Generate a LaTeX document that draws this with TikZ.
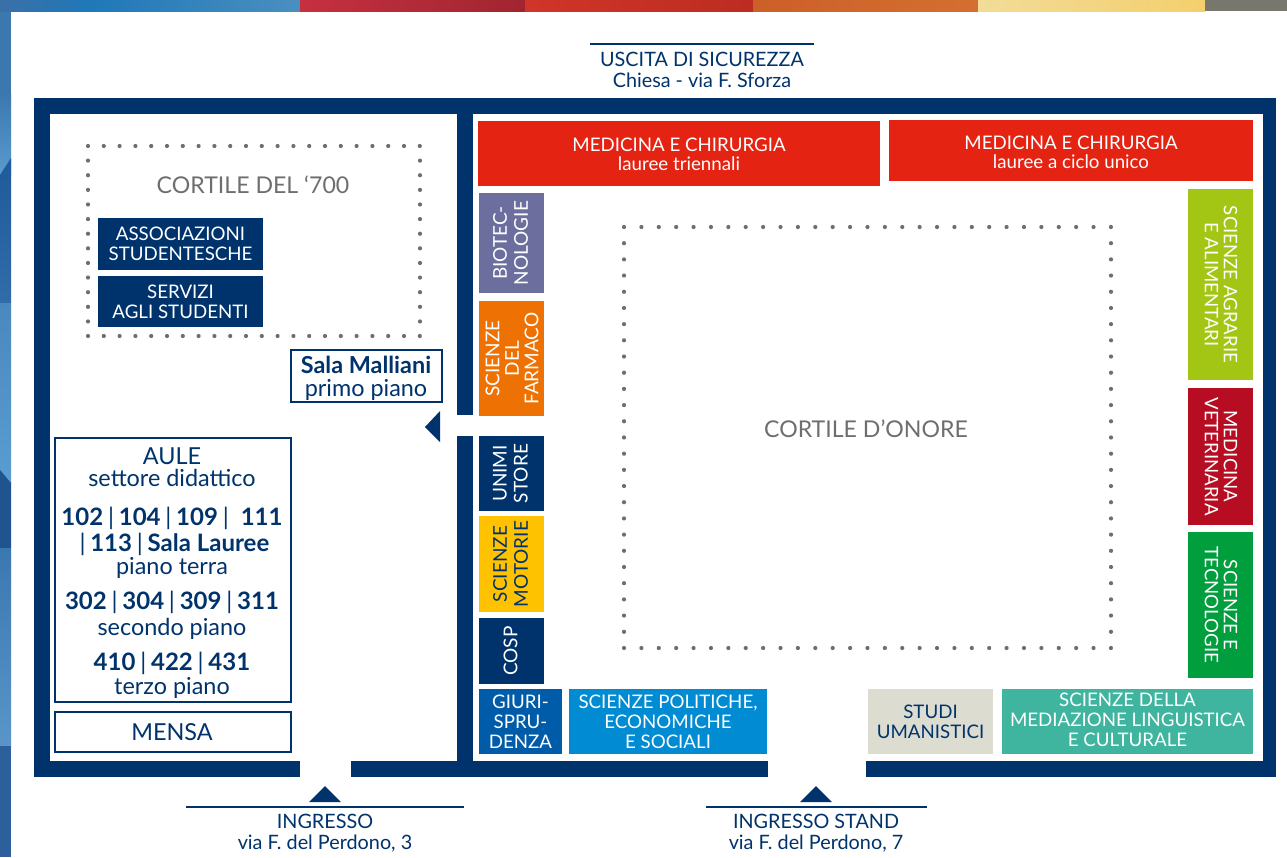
\documentclass[tikz,border=0pt]{standalone}
\usepackage{fontspec}
\setmainfont{Lato}
\definecolor{navy}{HTML}{00336C}
\definecolor{dotgray}{HTML}{6E6E6E}
\definecolor{medred}{HTML}{E42313}
\definecolor{biopurple}{HTML}{6C6F9E}
\definecolor{farmorange}{HTML}{EE7203}
\definecolor{motyellow}{HTML}{FFC200}
\definecolor{giublue}{HTML}{005CA8}
\definecolor{polblue}{HTML}{008BD2}
\definecolor{studgray}{HTML}{DCDCD0}
\definecolor{medteal}{HTML}{3FB59F}
\definecolor{agrgreen}{HTML}{A3C615}
\definecolor{vetred}{HTML}{B70D23}
\definecolor{tecgreen}{HTML}{009E3D}
\definecolor{sA}{HTML}{3A78AE}\definecolor{sB}{HTML}{5A9ACD}\definecolor{sC}{HTML}{1F5A9A}
\definecolor{sD}{HTML}{2F6CA8}\definecolor{sE}{HTML}{4A88BD}\definecolor{sF}{HTML}{5A9DD0}
\definecolor{sG}{HTML}{1F5490}\definecolor{sH}{HTML}{3A78B0}\definecolor{sI}{HTML}{5A95C8}
\definecolor{sJ}{HTML}{2C5F9C}
\definecolor{tA}{HTML}{3A70A8}\definecolor{tB}{HTML}{1F78B8}\definecolor{tC}{HTML}{4A8FC0}
\definecolor{tD}{HTML}{C63040}\definecolor{tE}{HTML}{A02530}\definecolor{tF}{HTML}{D03528}
\definecolor{tG}{HTML}{BC2C22}\definecolor{tH}{HTML}{CC6028}\definecolor{tI}{HTML}{D46F30}
\definecolor{tJ}{HTML}{F2DC98}\definecolor{tK}{HTML}{F4CF6C}\definecolor{tL}{HTML}{78776E}
\tikzset{
  roombox/.style={anchor=north west,inner sep=0pt,outer sep=0pt,draw=none},
  lab/.style={align=center,inner sep=0pt,outer sep=0pt,text=white,font=\fontsize{18.7}{20}\selectfont},
  sidelab/.style={lab,rotate=90,font=\fontsize{19}{19.5}\selectfont},
  widelab/.style={lab,rotate=90,font=\fontsize{19}{21}\selectfont},
  rightlab/.style={lab,rotate=-90,font=\fontsize{18.6}{19}\selectfont},
  navytext/.style={align=center,inner sep=0pt,outer sep=0pt,text=navy,font=\fontsize{19.8}{20.5}\selectfont},
  aulatext/.style={align=center,inner sep=0pt,outer sep=0pt,text=navy,font=\fontsize{23.4}{25}\selectfont},
  aulanum/.style={aulatext,font=\fontsize{24}{26}\selectfont},
  courtname/.style={inner sep=0pt,outer sep=0pt,text=dotgray,font=\fontsize{23.1}{25}\selectfont},
  wall/.style={fill=navy,draw=none},
  outlinebox/.style={draw=navy,line width=2.6pt,fill=white},
  arrowhead/.style={fill=navy,draw=none},
  streetline/.style={draw=navy,line width=2.2pt},
  courtdot/.style={fill=dotgray,draw=none}
}
\newcommand{\Room}[6]{% name, x, y, w, h, colour
  \node[roombox,fill=#6,minimum width=#4pt,minimum height=#5pt] (#1) at (#2,#3) {};}
\newcommand{\Bar}{\hspace{0.2em}{\normalfont\fontsize{24}{24}\selectfont|}\hspace{0.2em}}
\begin{document}
\begin{tikzpicture}[x=1pt,y=-1pt]
\useasboundingbox (0,0) rectangle (1287,857);
\fill[white] (0,0) rectangle (1287,857);
% left colour strip
\fill[sA] (0,0) rectangle (11,93);
\shade[top color=sA,bottom color=sB,draw=none] (0,93) rectangle (11,175);
\shade[top color=sC,bottom color=sD,draw=none] (0,175) -- (11,158) -- (11,303) -- (0,303) -- cycle;
\shade[top color=sE,bottom color=sF,draw=none] (0,303) rectangle (11,483);
\shade[top color=sG,bottom color=sG,draw=none] (0,470) -- (11,483) -- (11,548) -- (0,548) -- cycle;
\shade[top color=sH,bottom color=sI,draw=none] (0,548) rectangle (11,746);
\fill[sJ] (0,746) rectangle (11,857);
% top colour strip
\shade[left color=tA,right color=tB,draw=none] (0,0) rectangle (90,11);
\shade[left color=tB,right color=tC,draw=none] (90,0) rectangle (300,11);
\shade[left color=tD,right color=tE,draw=none] (300,0) rectangle (525,11);
\shade[left color=tF,right color=tG,draw=none] (525,0) rectangle (753,11);
\shade[left color=tH,right color=tI,draw=none] (753,0) rectangle (978,11);
\shade[left color=tJ,right color=tK,draw=none] (978,0) rectangle (1205,11);
\fill[tL] (1205,0) rectangle (1287,11);
% building walls
\fill[wall] (34,98) rectangle (1276,114);
\fill[wall] (34,98) rectangle (50,777);
\fill[wall] (1263,98) rectangle (1276,777);
\fill[wall] (34,761) rectangle (300,777);
\fill[wall] (351,761) rectangle (768,777);
\fill[wall] (866,761) rectangle (1276,777);
\fill[wall] (457,98) rectangle (473,415);
\fill[wall] (457,436) rectangle (473,777);
% courtyard dots
\foreach \i in {0,...,21}{
  \fill[courtdot] (88+15.8*\i,146) circle (2.1);
  \fill[courtdot] (88+15.8*\i,336) circle (2.1);}
\foreach \i in {1,...,12}{
  \fill[courtdot] (88,146+14.62*\i) circle (2.1);
  \fill[courtdot] (420,146+14.62*\i) circle (2.1);}
\foreach \i in {0,...,28}{
  \fill[courtdot] (624+17.39*\i,227) circle (2.1);
  \fill[courtdot] (624+17.39*\i,648) circle (2.1);}
\foreach \i in {1,...,25}{
  \fill[courtdot] (624,227+16.19*\i) circle (2.1);
  \fill[courtdot] (1111,227+16.19*\i) circle (2.1);}
\node[courtname] (c700) at (253,185) {CORTILE DEL ‘700};
\node[courtname] (conore) at (866,429) {CORTILE D’ONORE};
% rooms
\Room{med1}{478}{121}{402}{65}{medred}
\node[lab] (tmed1) at ([yshift=-0.5pt]med1.center) {MEDICINA E CHIRURGIA\\[-1pt]lauree triennali};
\Room{med2}{889}{120}{364}{61}{medred}
\node[lab] (tmed2) at ([yshift=-2pt]med2.center) {MEDICINA E CHIRURGIA\\[-1pt]lauree a ciclo unico};
\Room{bio}{479}{193}{65}{100}{biopurple}
\node[widelab] (tbio) at ([xshift=-1pt]bio.center) {BIOTEC-\\NOLOGIE};
\Room{far}{479}{301}{65}{115}{farmorange}
\node[sidelab] (tfar) at ([xshift=0.5pt]far.center) {SCIENZE\\DEL\\FARMACO};
\Room{uni}{479}{436}{65}{75}{navy}
\node[widelab] (tuni) at ([xshift=-1pt]uni.center) {UNIMI\\STORE};
\Room{mot}{479}{516}{65}{96}{motyellow}
\node[widelab,text=navy] (tmot) at ([xshift=-1pt]mot.center) {SCIENZE\\MOTORIE};
\Room{cos}{479}{618}{65}{66}{navy}
\node[widelab] (tcos) at ([xshift=-1pt]cos.center) {COSP};
\Room{giu}{479}{689}{83}{65}{giublue}
\node[lab] (tgiu) at (giu.center) {GIURI-\\SPRU-\\DENZA};
\Room{pol}{569}{689}{198}{65}{polblue}
\node[lab] (tpol) at ([yshift=-0.5pt]pol.center) {SCIENZE POLITICHE,\\ECONOMICHE\\E SOCIALI};
\Room{stu}{868}{689}{125}{65}{studgray}
\node[lab,text=navy] (tstu) at (stu.center) {STUDI\\UMANISTICI};
\Room{mdz}{1002}{689}{251}{65}{medteal}
\node[lab] (tmdz) at ([yshift=1.5pt]mdz.center) {SCIENZE DELLA\\MEDIAZIONE LINGUISTICA\\E CULTURALE};
\Room{agr}{1188}{189}{65}{191}{agrgreen}
\node[rightlab] (tagr) at ([xshift=0.5pt]agr.center) {SCIENZE AGRARIE\\E ALIMENTARI};
\Room{vet}{1188}{388}{65}{137}{vetred}
\node[rightlab] (tvet) at ([xshift=0.5pt]vet.center) {MEDICINA\\VETERINARIA};
\Room{tec}{1188}{532}{65}{146}{tecgreen}
\node[rightlab] (ttec) at ([xshift=0.5pt]tec.center) {SCIENZE E\\TECNOLOGIE};
\Room{ass}{98}{218}{165}{52}{navy}
\node[lab] (tass) at (ass.center) {ASSOCIAZIONI\\STUDENTESCHE};
\Room{ser}{98}{276}{165}{51}{navy}
\node[lab] (tser) at (ser.center) {SERVIZI\\AGLI STUDENTI};
% outlined rooms
\draw[outlinebox] (291,350) rectangle (442,402);
\node[aulatext,font=\fontsize{23.4}{23}\selectfont] (mal) at (366,378) {\textbf{Sala Malliani}\\primo piano};
\draw[outlinebox] (55,438) rectangle (291,702);
\node[aulatext,font=\fontsize{23.4}{22}\selectfont] (aule) at (172,467) {AULE\\settore didattico};
\node[aulanum] (aul1) at (172,531) {\textbf{102}\Bar\textbf{104}\Bar\textbf{109}\Bar\hspace{0.3em}\textbf{111}\\\Bar\textbf{113}\Bar\textbf{Sala Lauree}};
\node[aulatext] (pt) at (172,568) {piano terra};
\node[aulanum] (aul2) at (172,602) {\textbf{302}\Bar\textbf{304}\Bar\textbf{309}\Bar\textbf{311}};
\node[aulatext] (sp) at (172,629) {secondo piano};
\node[aulanum] (aul3) at (172,663) {\textbf{410}\Bar\textbf{422}\Bar\textbf{431}};
\node[aulatext] (tp) at (172,688) {terzo piano};
\draw[outlinebox] (55,712) rectangle (291,752);
\node[aulatext] (men) at (172,732) {MENSA};
% arrowheads
\fill[arrowhead] (425,427) -- (440,411) -- (440,442) -- cycle;
\fill[arrowhead] (325,786) -- (309,802) -- (341,802) -- cycle;
\fill[arrowhead] (816,786) -- (800,802) -- (832,802) -- cycle;
% street labels
\draw[streetline] (590,44) -- (814,44);
\node[navytext] (usc) at (702,70) {USCITA DI SICUREZZA\\Chiesa - via F. Sforza};
\draw[streetline] (186,807) -- (464,807);
\node[navytext] (ing) at (325,833) {INGRESSO\\via F. del Perdono, 3};
\draw[streetline] (706,807) -- (927,807);
\node[navytext] (sta) at (816,833) {INGRESSO STAND\\via F. del Perdono, 7};
\end{tikzpicture}
\end{document}
